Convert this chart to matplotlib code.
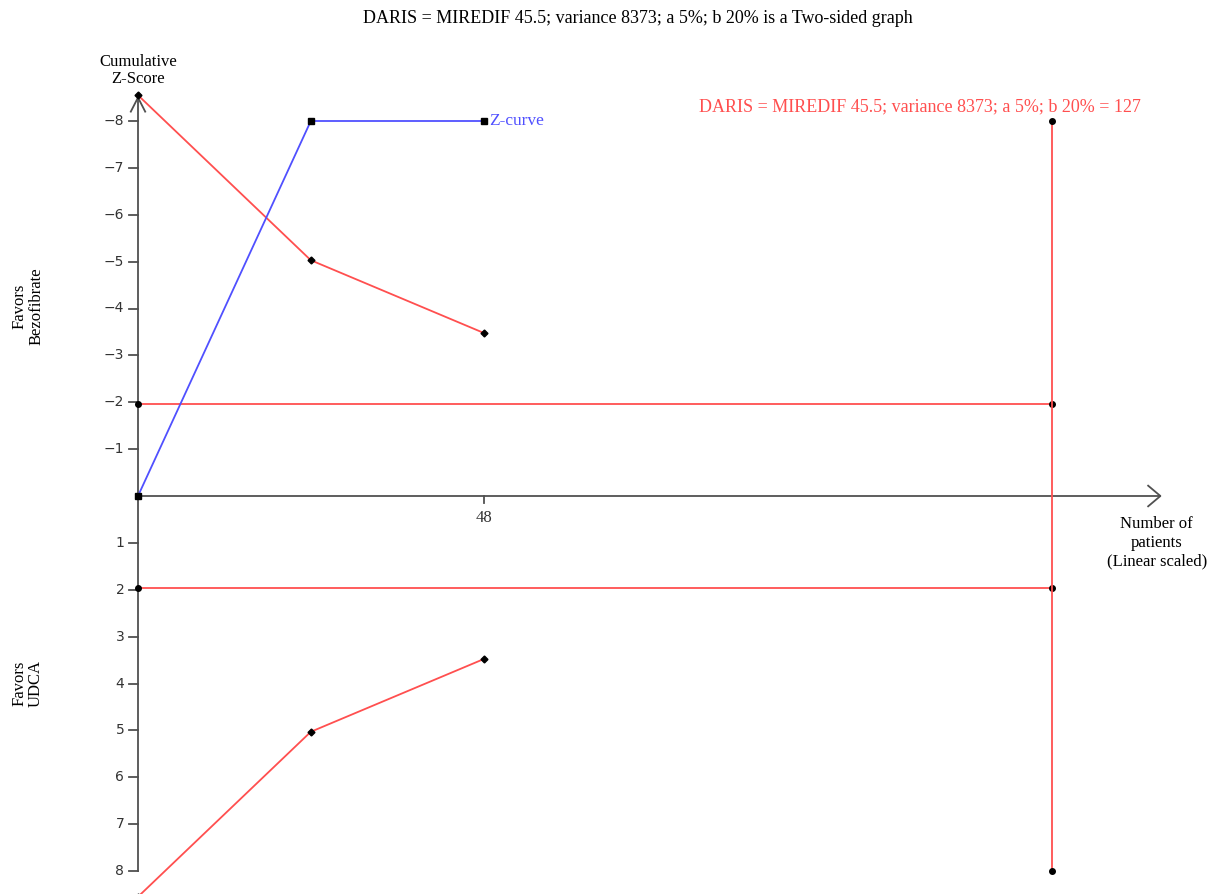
import matplotlib
matplotlib.use('Agg')
from matplotlib import pyplot as plt
import numpy as np

# %% Data

patients = [0, 24, 48]
zcurve = [0, -8, -8]
upper_bound = [-8.55, -5.03, -3.48]
lower_bound = [8.55, 5.03, 3.48]
ris = 127
z_crit = 1.96
y_ticks = [-8, -7, -6, -5, -4, -3, -2, -1, 1, 2, 3, 4, 5, 6, 7, 8]
x_ticks = [48]

red = '#ff4f4f'
blue = '#5050ff'
grey = '#505050'
serif = 'Liberation Serif'

# %% Figure in pixel-matched data coordinates

fig = plt.figure(figsize=(12.11, 8.94), dpi=100)
ax = fig.add_axes([0, 0, 1, 1])
px_x, px_y = 7.2, 46.875
x0, y0 = 138, 496
ax.set_xlim(-x0/px_x, (1211-x0)/px_x)
ax.set_ylim((894-y0)/px_y, -y0/px_y)
ax.axis('off')

# Axes
ax.plot([0, 0], [8, -8.5], color=grey, lw=1.3)
ax.plot([0, 142], [0, 0], color=grey, lw=1.3)
ax.plot([-1.0, 0, 1.0], [-8.2, -8.5, -8.2], color=grey, lw=1.3)
ax.plot([140.3, 142, 140.3], [-0.22, 0, 0.22], color=grey, lw=1.3)

for t in y_ticks:
    ax.plot([-1.3, 0], [t, t], color=grey, lw=1.3)
    ax.text(-1.9, t, str(t).replace('-', '\u2212'), ha='right', va='center',
            fontsize=10, color='#333333')
for t in x_ticks:
    ax.plot([t, t], [0, 0.15], color=grey, lw=1.3)
    ax.text(t, 0.3, str(t), ha='center', va='top', fontsize=12,
            family=serif, color='#333333')

# Boundaries
ax.plot([0, ris], [-z_crit, -z_crit], color=red, lw=1.3, marker='o', ms=4,
        mfc='black', mec='black')
ax.plot([0, ris], [z_crit, z_crit], color=red, lw=1.3, marker='o', ms=4,
        mfc='black', mec='black')
ax.plot([ris, ris], [-8, 8], color=red, lw=1.3, marker='o', ms=4,
        mfc='black', mec='black')
ax.plot(patients, upper_bound, color=red, lw=1.3, marker='D', ms=3.5,
        mfc='black', mec='black')
ax.plot(patients, lower_bound, color=red, lw=1.3, marker='D', ms=3.5,
        mfc='black', mec='black', clip_on=False)

# Z-curve
ax.plot(patients, zcurve, color=blue, lw=1.3, marker='s', ms=5,
        mfc='black', mec='black')
ax.text(patients[-1] + 0.8, zcurve[-1], 'Z-curve', color=blue, ha='left',
        va='center', fontsize=12.5, family=serif)

# Labels
fig.text(0.527, 0.979, 'DARIS = MIREDIF 45.5; variance 8373; a 5%; b 20% is a Two-sided graph',
         ha='center', va='center', fontsize=13, family=serif)
ax.text(ris + 12.3, -8.3, 'DARIS = MIREDIF 45.5; variance 8373; a 5%; b 20% = 127',
        color=red, ha='right', va='center', fontsize=13, family=serif)
ax.text(0, -8.72, 'Cumulative\nZ-Score', ha='center', va='bottom', fontsize=12,
        family=serif, linespacing=1.1)
ax.text(141.5, 0.42, 'Number of\npatients\n(Linear scaled)', ha='center', va='top',
        fontsize=12, family=serif, linespacing=1.25)
ax.text(-15.3, -4.05, 'Favors\nBezofibrate', rotation=90, ha='center', va='center',
        fontsize=12, family=serif, linespacing=1.05)
ax.text(-15.3, 4.0, 'Favors\nUDCA', rotation=90, ha='center', va='center',
        fontsize=12, family=serif, linespacing=1.05)

fig.savefig('out.png', dpi=100)
